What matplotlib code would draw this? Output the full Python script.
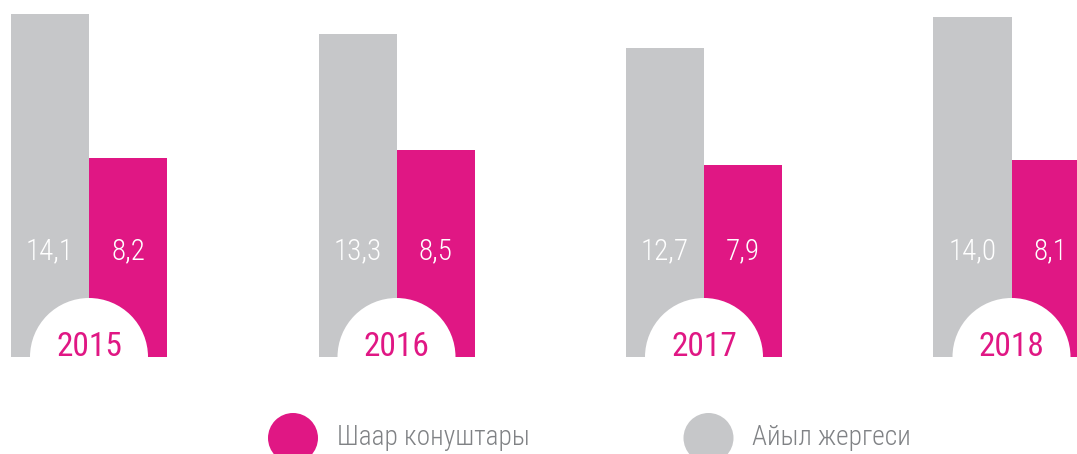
import matplotlib.pyplot as plt
import numpy as np
from matplotlib.patches import Ellipse

# data: share by settlement type, per year
years = ['2015', '2016', '2017', '2018']
rural = [14.1, 13.3, 12.7, 14.0]   # Айыл жергеси
urban = [8.2, 8.5, 7.9, 8.1]       # Шаар конуштары
legend_labels = ['Шаар конуштары', 'Айыл жергеси']

GRAY = '#c6c7c9'
PINK = '#e01784'
FONT = ['Roboto Condensed', 'DejaVu Sans']

W, H = 1077, 454
fig = plt.figure(figsize=(W / 100, H / 100), dpi=100)

# axes area: baseline 97 px above figure bottom, 24.3 px per unit
base_px = 97
px_per_unit = 24.3
group_px = 307.5
ax = fig.add_axes([0, base_px / H, 1, (H - base_px) / H])
ax.set_ylim(0, (H - base_px) / px_per_unit)
ax.set_xlim(-89 / group_px, (W - 89) / group_px)
ax.axis('off')

x = np.arange(len(years))
bw = 78 / group_px

ax.bar(x - bw / 2, rural, width=bw, color=GRAY, linewidth=0)
ax.bar(x + bw / 2, urban, width=bw, color=PINK, linewidth=0)

label_y = (H - 251.5 - base_px) / px_per_unit
for i in range(len(years)):
    ax.text(x[i] - bw / 2, label_y, f'{rural[i]:.1f}'.replace('.', ','),
            ha='center', va='center', fontsize=21, color='white',
            family=FONT, weight=300)
    ax.text(x[i] + bw / 2, label_y, f'{urban[i]:.1f}'.replace('.', ','),
            ha='center', va='center', fontsize=21, color='white',
            family=FONT, weight=300)
    # white half-disc with the year
    r = 59
    ax.add_patch(Ellipse((x[i], 0), 2 * r / group_px, 2 * r / px_per_unit,
                         facecolor='white', edgecolor='none', zorder=3))
    ax.text(x[i], 0.06, years[i], ha='center', va='baseline', fontsize=24,
            color=PINK, family=FONT, weight=400, zorder=4)

# legend
for cx, col, lab in [(293, PINK, legend_labels[0]), (708.5, GRAY, legend_labels[1])]:
    fig.add_artist(Ellipse((cx / W, (H - 438) / H), 50 / W, 50 / H,
                           transform=fig.transFigure, facecolor=col, edgecolor='none'))
    fig.text((cx + 44) / W, (H - 445) / H, lab, ha='left', va='baseline',
             fontsize=19.7, color='#808285', family=FONT, weight=300)

fig.savefig('out.png', dpi=100)
